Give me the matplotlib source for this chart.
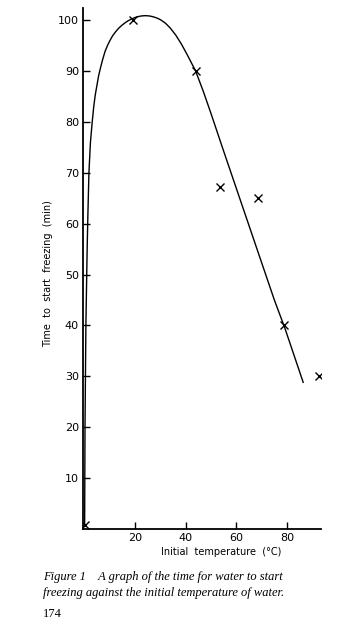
import matplotlib.pyplot as plt

# measured points (initial temperature in C, time to start freezing in min)
temp_pts = [0, 19, 44, 53.5, 68.5, 79, 92.5]
time_pts = [0.8, 100, 90, 67.3, 65, 40, 30]

# hand-drawn curve
curve_temp = [0, 0.15, 0.5, 1.0, 1.3, 1.7, 2.3, 3.0, 3.6, 4.2, 5.5, 6.3, 7.2, 8.1, 9.1,
              10.0, 11.0, 12.2, 13.4, 14.7, 16, 17.2, 18.4, 19.7, 21, 22.5, 24,
              25.5, 27, 28.5, 30, 32, 33.8, 36, 38.4, 41, 43.9, 47, 50,
              55, 60, 65, 70, 75, 79.2, 86.4]
curve_time = [0.5, 20, 40, 55, 62, 70, 76, 80, 83, 85.3, 89, 90.7, 92.4, 93.9, 95.1,
              96.0, 96.9, 97.7, 98.4, 99.0, 99.5, 99.9, 100.2, 100.5, 100.7, 100.85, 100.9,
              100.85, 100.7, 100.45, 100.1, 99.4, 98.5, 97.1, 95.2, 92.8, 90, 85.9, 81.6,
              74.2, 66.9, 59.6, 52.3, 45.0, 39.4, 28.8]

x_ticks = [20, 40, 60, 80]
y_ticks = [10, 20, 30, 40, 50, 60, 70, 80, 90, 100]

tick_font = ['DejaVu Sans']

fig = plt.figure(figsize=(3.42, 6.28), dpi=100)
fig.patch.set_facecolor('white')
ax = fig.add_axes([0.243, 0.158, 0.696, 0.83])

ax.plot(curve_temp, curve_time, color='black', lw=1.0)
ax.plot(temp_pts, time_pts, 'x', color='black', ms=6, mew=1.0)

ax.set_xlim(-0.6, 93.5)
ax.set_ylim(0, 102.5)
ax.spines['top'].set_visible(False)
ax.spines['right'].set_visible(False)
ax.spines['left'].set_linewidth(1.3)
ax.spines['bottom'].set_linewidth(1.3)

ax.set_xticks(x_ticks)
ax.set_yticks(y_ticks)
ax.tick_params(direction='in', length=5, width=1.0, pad=3, labelsize=8)
for lab in ax.get_xticklabels() + ax.get_yticklabels():
    lab.set_family(tick_font)

ax.set_xlabel('Initial  temperature  (°C)', fontsize=7, family=tick_font)
ax.xaxis.set_label_coords(0.58, -0.035)
ax.set_ylabel('Time  to  start  freezing  (min)', fontsize=7, family=tick_font)
ax.yaxis.set_label_coords(-0.128, 0.49)

fig.text(0.126, 0.081, 'Figure 1    A graph of the time for water to start',
         fontsize=9, style='italic', family='Liberation Serif', va='center')
fig.text(0.126, 0.056, 'freezing against the initial temperature of water.',
         fontsize=9, style='italic', family='Liberation Serif', va='center')
fig.text(0.126, 0.022, '174', fontsize=9, family='Liberation Serif', va='center')

plt.savefig('out.png', dpi=100)
